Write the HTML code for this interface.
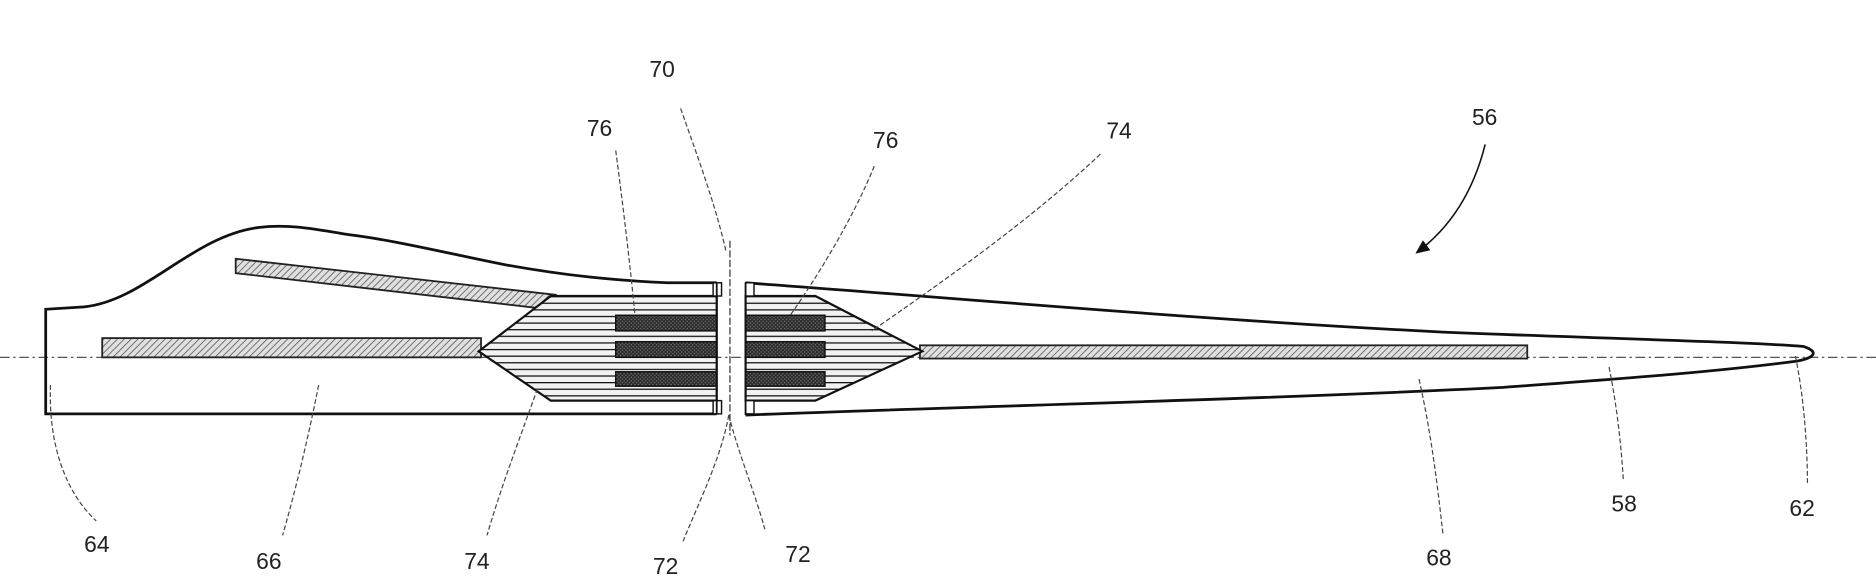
<!DOCTYPE html>
<html><head><meta charset="utf-8"><style>
html,body{margin:0;padding:0;background:#fff;width:1876px;height:580px;overflow:hidden}
svg text{font-family:"Liberation Sans",sans-serif;font-size:19px;fill:#222}
</style></head><body>
<svg width="1876" height="580" viewBox="0 0 1560 482" xmlns="http://www.w3.org/2000/svg">
<defs>
<pattern id="h1" width="4" height="4" patternUnits="userSpaceOnUse" patternTransform="rotate(45)">
<rect width="4" height="4" fill="#e0e0e0"/><line x1="0" y1="0" x2="0" y2="4" stroke="#555" stroke-width="1.3"/></pattern>
<pattern id="h2" width="3" height="3" patternUnits="userSpaceOnUse">
<rect width="3" height="3" fill="#666"/><path d="M0 0L3 3M3 0L0 3" stroke="#222" stroke-width="0.8"/></pattern>
<pattern id="st" width="6" height="5.5" patternUnits="userSpaceOnUse" y="246">
<rect width="6" height="5.5" fill="#f2f2f2"/><line x1="0" y1="0.5" x2="6" y2="0.5" stroke="#111" stroke-width="1.1"/></pattern>
<marker id="ar" markerWidth="10" markerHeight="10" refX="8" refY="5" orient="auto"><path d="M0 1L9 5L0 9Z" fill="#111"/></marker>
</defs>
<line x1="0" y1="297" x2="1560" y2="297" stroke="#555" stroke-width="1" stroke-dasharray="8,3,2,3"/>
<path d="M596 235 L555 235 C510 233 470 229 420 220 C370 210 330 200 290 195 C260 190 240 186 215 189 C160 196 120 250 70 255 L38 257 L38 344 L596 344" fill="none" stroke="#111" stroke-width="2.3"/>
<path d="M620 235 C800 248 1000 266 1200 276 C1350 282 1450 284 1500 288 C1512 292 1510 297 1495 300 C1420 310 1330 316 1250 322 C1050 332 800 338 620 345" fill="none" stroke="#111" stroke-width="2.3"/>
<polygon points="196,215 462,245 456,257 196,227" fill="url(#h1)" stroke="#222" stroke-width="1.5"/>
<rect x="85" y="281" width="315" height="16" fill="url(#h1)" stroke="#222" stroke-width="1.5"/>
<rect x="765" y="287" width="505" height="11" fill="url(#h1)" stroke="#222" stroke-width="1.5"/>
<polygon points="398,292 458,246 596,246 596,333 458,333" fill="url(#st)" stroke="#111" stroke-width="1.8"/>
<polygon points="620,246 678,246 767,292 678,333 620,333" fill="url(#st)" stroke="#111" stroke-width="1.8"/>
<g fill="url(#h2)" stroke="#111" stroke-width="1.2">
<rect x="512" y="262" width="84" height="13"/><rect x="512" y="284" width="84" height="13"/><rect x="512" y="309" width="84" height="12"/>
<rect x="620" y="262" width="66" height="13"/><rect x="620" y="284" width="66" height="13"/><rect x="620" y="309" width="66" height="12"/>
</g>
<g fill="#fff" stroke="#111" stroke-width="1.2">
<rect x="593" y="235" width="7" height="11"/><rect x="620" y="235" width="7" height="11"/>
<rect x="593" y="333" width="7" height="11"/><rect x="620" y="333" width="7" height="11"/>
</g>
<line x1="596" y1="235" x2="596" y2="344" stroke="#111" stroke-width="1.5"/>
<line x1="620" y1="235" x2="620" y2="345" stroke="#111" stroke-width="1.5"/>
<line x1="607" y1="200" x2="607" y2="362" stroke="#333" stroke-width="1" stroke-dasharray="6,2"/>
<g fill="none" stroke="#444" stroke-width="1" stroke-dasharray="4,2">
<path d="M566 90 C580 130 595 170 604 210"/>
<path d="M512 125 C518 170 524 220 528 262"/>
<path d="M727 138 C710 180 680 230 655 265"/>
<path d="M915 128 C860 180 790 230 725 275"/>
<path d="M42 320 C40 370 55 410 80 433"/>
<path d="M265 320 C255 370 245 410 235 445"/>
<path d="M447 323 C430 370 415 410 405 445"/>
<path d="M606 345 C600 380 580 420 568 450"/>
<path d="M606 345 C615 380 628 410 636 440"/>
<path d="M1180 315 C1190 360 1195 400 1200 445"/>
<path d="M1338 305 C1345 340 1348 370 1350 400"/>
<path d="M1493 296 C1500 330 1503 370 1503 403"/>
</g>
<path d="M1235 120 C1225 160 1205 190 1178 210" fill="none" stroke="#111" stroke-width="1.3" marker-end="url(#ar)"/>
<text x="540" y="64">70</text>
<text x="488" y="113">76</text>
<text x="726" y="123">76</text>
<text x="920" y="115">74</text>
<text x="1224" y="104">56</text>
<text x="70" y="459">64</text>
<text x="213" y="473">66</text>
<text x="386" y="473">74</text>
<text x="543" y="477">72</text>
<text x="653" y="467">72</text>
<text x="1186" y="470">68</text>
<text x="1340" y="425">58</text>
<text x="1488" y="429">62</text>
</svg>
</body></html>
